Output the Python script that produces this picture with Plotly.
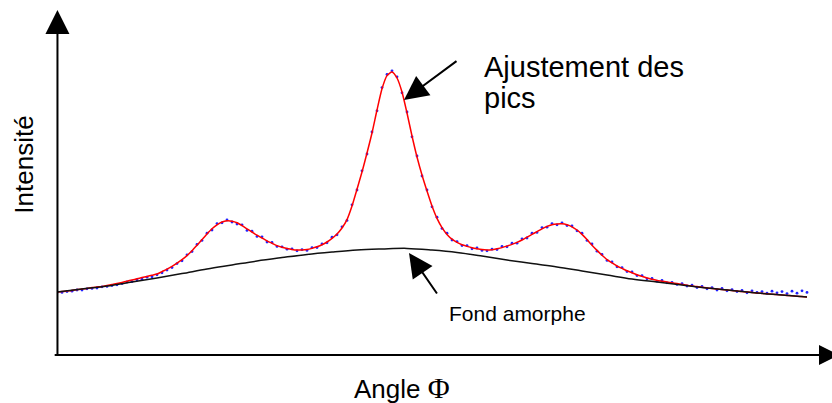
import plotly.graph_objects as go

# Diffraction profile: angle (arbitrary units) and intensity (arbitrary units)
angle = list(range(0, 151))

# Measured intensity (noisy points)
measured = [
    15.3, 15.4, 15.6, 15.7, 16.0, 16.0, 16.3, 16.4, 16.5, 16.8,
    16.9, 17.1, 17.3, 17.6, 18.0, 18.1, 18.5, 18.7, 19.2, 19.3,
    19.8, 20.3, 21.0, 21.6, 22.6, 23.3, 24.8, 25.6, 27.4, 28.4,
    30.2, 31.0, 32.6, 32.8, 33.5, 33.0, 32.5, 32.3, 30.9, 30.7,
    29.4, 29.3, 28.0, 27.9, 26.9, 26.8, 26.2, 26.3, 25.8, 26.1,
    25.9, 26.6, 26.6, 27.5, 27.8, 29.2, 29.8, 31.8, 33.4, 37.3,
    41.0, 45.8, 50.0, 55.5, 60.8, 66.6, 69.9, 70.8, 69.3, 65.3,
    60.5, 54.3, 49.5, 44.5, 41.0, 36.8, 34.2, 31.4, 30.2, 28.5,
    28.1, 27.1, 27.1, 26.3, 26.5, 25.9, 25.8, 26.2, 26.1, 26.9,
    26.8, 27.7, 27.7, 28.8, 29.0, 30.2, 30.4, 31.6, 31.7, 32.6,
    32.3, 32.8, 32.1, 32.0, 30.8, 30.2, 28.4, 27.5, 25.7, 24.9,
    23.4, 23.0, 21.8, 21.6, 20.6, 20.5, 19.6, 19.6, 18.8, 18.9,
    18.2, 18.4, 17.8, 17.9, 17.4, 17.6, 17.0, 17.2, 16.6, 16.9,
    16.3, 16.6, 16.0, 16.4, 15.8, 16.1, 15.6, 15.9, 15.3, 15.8,
    15.4, 15.6, 15.2, 15.7, 15.3, 15.6, 15.1, 15.7, 15.2, 15.8,
    15.4,
]

# Peak fit (sum of peaks on the amorphous background)
fit = [
    15.5, 15.6, 15.75, 15.9, 16.1, 16.25, 16.4, 16.6, 16.75, 16.9,
    17.1, 17.35, 17.6, 17.9, 18.2, 18.5, 18.8, 19.1, 19.4, 19.7,
    20.0, 20.6, 21.2, 21.9, 22.7, 23.6, 24.6, 25.8, 27.2, 28.6,
    30.0, 31.3, 32.3, 33.0, 33.3, 33.2, 32.8, 32.1, 31.3, 30.5,
    29.7, 29.0, 28.3, 27.7, 27.1, 26.7, 26.4, 26.15, 26.0, 26.0,
    26.1, 26.4, 26.8, 27.3, 28.0, 28.9, 30.0, 31.5, 33.6, 37.0,
    41.2, 45.5, 50.25, 55.25, 61.0, 66.3, 69.6, 70.5, 69.0, 65.5,
    60.25, 54.5, 49.25, 44.75, 40.75, 37.0, 33.9, 31.6, 29.9, 28.7,
    27.9, 27.3, 26.9, 26.55, 26.3, 26.1, 26.0, 26.05, 26.3, 26.6,
    27.0, 27.4, 27.9, 28.5, 29.2, 29.9, 30.6, 31.3, 31.9, 32.3,
    32.5, 32.55, 32.3, 31.8, 31.0, 29.9, 28.6, 27.2, 25.9, 24.7,
    23.6, 22.8, 22.0, 21.4, 20.8, 20.3, 19.8, 19.4, 19.0, 18.7,
    18.4, 18.2, 18.0, 17.8, 17.6, 17.4, 17.2, 17.0, 16.85, 16.7,
    16.5, 16.4, 16.25, 16.15, 16.0, 15.9, 15.75, 15.6, 15.5, 15.4,
    15.25, 15.15, 15.05, 14.95, 14.85, 14.75, 14.65, 14.55, 14.45, 14.35,
    14.25,
]

# Amorphous background
bg_angle = list(range(0, 151, 5))
background = [
    15.5, 16.25, 17.0, 18.0, 19.0, 20.1, 21.25, 22.25, 23.25, 24.1,
    24.9, 25.5, 26.0, 26.25, 26.4, 26.0, 25.4, 24.5, 23.5, 22.6,
    21.75, 20.75, 19.75, 18.75, 18.0, 17.25, 16.5, 15.9, 15.25, 14.75,
    14.25,
]

FONT = "Liberation Sans, Arial, sans-serif"
HEAD = dict(arrowhead=2, arrowsize=2.4, arrowwidth=2, arrowcolor="#000000",
            standoff=0, showarrow=True, text="")

fig = go.Figure()
fig.add_trace(go.Scatter(
    x=angle, y=measured, mode="markers",
    marker=dict(color="#2020ff", size=2.8, line=dict(width=0)),
    hoverinfo="skip",
))
fig.add_trace(go.Scatter(
    x=angle, y=fit, mode="lines",
    line=dict(color="#ff0000", width=1.5, shape="spline", smoothing=0.6),
    hoverinfo="skip",
))
fig.add_trace(go.Scatter(
    x=bg_angle, y=background, mode="lines",
    line=dict(color="#111111", width=1.5, shape="spline", smoothing=1.0),
    hoverinfo="skip",
))

# Horizontal axis with its arrowhead running past the right edge
shapes = [
    dict(type="line", xref="paper", yref="paper",
         x0=-0.003, y0=-0.003, x1=0.99, y1=-0.003,
         line=dict(color="#000000", width=2)),
    dict(type="path", xref="paper", yref="paper",
         path="M 0.9832,0.0262 L 1.009,-0.003 L 0.9832,-0.0322 Z",
         fillcolor="#000000", line=dict(color="#000000", width=0)),
]

annotations = [
    # vertical axis
    dict(xref="paper", yref="paper", x=0.0006, y=1.0, ax=0, ay=346, **HEAD),
    # pointer to the fitted peak
    dict(x=69.4, y=63.5, ax=54, ay=-40, **HEAD),
    dict(x=85.0, y=71.75, text="Ajustement des", showarrow=False,
         xanchor="left", yanchor="middle",
         font=dict(family=FONT, size=29, color="#000000")),
    dict(x=85.0, y=64.0, text="pics", showarrow=False,
         xanchor="left", yanchor="middle",
         font=dict(family=FONT, size=29, color="#000000")),
    # pointer to the background
    dict(x=70.4, y=25.25, ax=29, ay=42, **HEAD),
    dict(x=92.0, y=10.1, text="Fond amorphe", showarrow=False,
         xanchor="center", yanchor="middle",
         font=dict(family=FONT, size=21, color="#000000")),
    # axis titles
    dict(xref="paper", yref="paper", x=0.4458, y=-0.0988,
         text='Angle <span style="font-family:Liberation Serif, Times New Roman, serif;font-size:30px">Φ</span>',
         showarrow=False, xanchor="center", yanchor="middle",
         font=dict(family=FONT, size=26, color="#000000")),
    dict(xref="paper", yref="paper", x=-0.0419, y=0.549, text="Intensité",
         textangle=-90, showarrow=False, xanchor="center", yanchor="middle",
         font=dict(family=FONT, size=26, color="#000000")),
]

fig.update_layout(
    width=832, height=403,
    margin=dict(l=57, r=0, t=10, b=49, pad=0),
    paper_bgcolor="#ffffff", plot_bgcolor="#ffffff",
    showlegend=False,
    xaxis=dict(range=[0, 155], visible=False, fixedrange=True),
    yaxis=dict(range=[0, 86], visible=False, fixedrange=True),
    shapes=shapes,
    annotations=annotations,
)

fig.write_html("out.html", config={"displayModeBar": False})
